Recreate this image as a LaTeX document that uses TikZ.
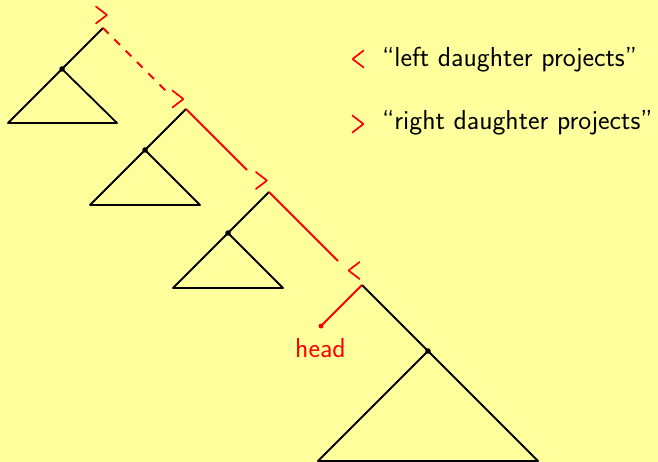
\documentclass[tikz,border=0pt]{standalone}
\usepackage{fontspec}
\newfontfamily\markfont{lmsans10-regular.otf}[FakeBold=2]
\definecolor{bgyellow}{RGB}{255,255,158}
\newcommand{\lmark}{\scalebox{0.62}[1.0]{\markfont\fontsize{31}{34}\selectfont<}}
\newcommand{\rmark}{\scalebox{0.62}[1.0]{\markfont\fontsize{31}{34}\selectfont>}}
\tikzset{
  tree/.style={black, line width=1.8pt, line join=round},
  redline/.style={red, line width=1.8pt},
  lab/.style={text=red, font=\sffamily\fontsize{27.5}{32}\selectfont, inner sep=0pt},
  legtext/.style={text=black, font=\sffamily\fontsize{27.5}{32}\selectfont, inner sep=0pt, anchor=base west},
  dotnode/.style={circle, fill, inner sep=0pt, minimum size=5.5pt},
}
\begin{document}
\begin{tikzpicture}[x=1pt,y=-1pt]
\fill[bgyellow] (0,0) rectangle (658,462);
\useasboundingbox (0,0) rectangle (658,462);
% tree 1
\coordinate (a1) at (103,28);
\node[dotnode] (d1) at (62,69) {};
\coordinate (l1) at (8,123);
\coordinate (r1) at (117,123);
\draw[tree] (a1) -- (l1) -- (r1) -- (d1.center);
% tree 2
\coordinate (a2) at (186,109);
\node[dotnode] (d2) at (145,150) {};
\coordinate (l2) at (90,205);
\coordinate (r2) at (200,205);
\draw[tree] (a2) -- (l2) -- (r2) -- (d2.center);
% tree 3
\coordinate (a3) at (269,192);
\node[dotnode] (d3) at (228,233) {};
\coordinate (l3) at (173,288);
\coordinate (r3) at (283,288);
\draw[tree] (a3) -- (l3) -- (r3) -- (d3.center);
% tree 4
\coordinate (a4) at (362,285);
\node[dotnode] (d4) at (428,351) {};
\coordinate (l4) at (318,461);
\coordinate (r4) at (538,461);
\draw[tree] (a4) -- (r4) -- (l4) -- (d4.center);
% labels
\node[lab] (g1) at (101.5,15) {\rmark};
\node[lab] (g2) at (178,99) {\rmark};
\node[lab] (g3) at (261.5,180.5) {\rmark};
\node[lab] (g4) at (354,270.5) {\lmark};
% red paths
\coordinate (e1) at (166,91);
\coordinate (e2) at (247,170);
\coordinate (e3) at (338,261);
\draw[redline, dash pattern=on 8pt off 8pt] (a1) -- (e1);
\draw[redline] (a2) -- (e2);
\draw[redline] (a3) -- (e3);
\node[dotnode, red, minimum size=5pt] (h) at (321,326) {};
\draw[redline] (a4) -- (h.center);
\node[lab] (hl) at (320.5,348.5) {head};
% legend
\node[lab] (ll) at (358,59) {\lmark};
\node[legtext] (lt) at (382,67) {“left daughter projects”};
\node[lab] (rl) at (358,124) {\rmark};
\node[legtext] (rt) at (382,130) {“right daughter projects”};
\end{tikzpicture}
\end{document}
